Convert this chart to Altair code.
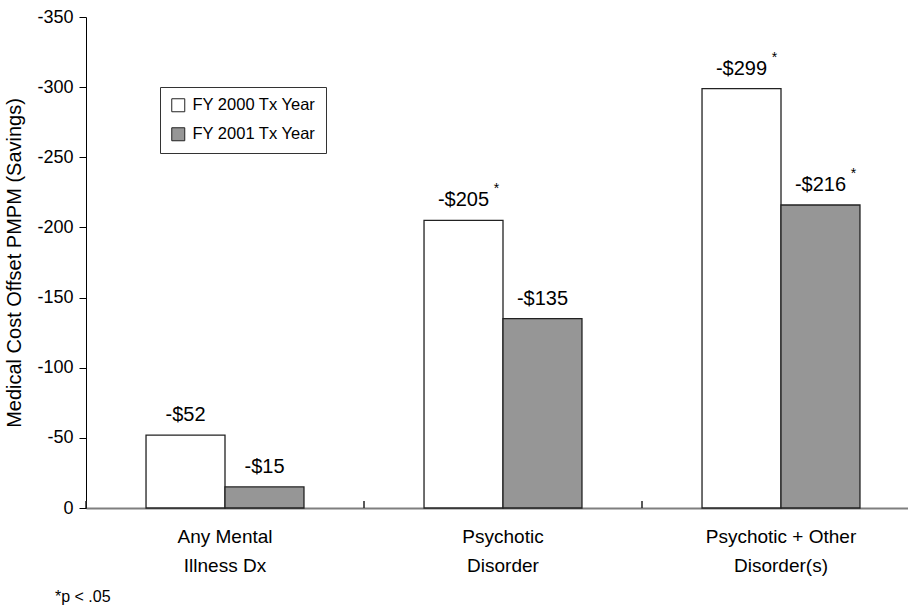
import altair as alt
import pandas as pd

# Medical cost offset per member per month, by diagnosis group and treatment year
categories = ["Any Mental\nIllness Dx", "Psychotic\nDisorder", "Psychotic + Other\nDisorder(s)"]
series = ["FY 2000 Tx Year", "FY 2001 Tx Year"]
fy2000 = [-52, -205, -299]
fy2001 = [-15, -135, -216]
sig2000 = ["", "*", "*"]
sig2001 = ["", "", "*"]
y_ticks = [0, -50, -100, -150, -200, -250, -300, -350]

rows = []
for i, cat in enumerate(categories):
    rows.append({"category": cat, "series": series[0], "value": fy2000[i], "sig": sig2000[i]})
    rows.append({"category": cat, "series": series[1], "value": fy2001[i], "sig": sig2001[i]})
df = pd.DataFrame(rows)

FONT = "Liberation Sans"

x_enc = alt.X(
    "category:N",
    sort=categories,
    scale=alt.Scale(domain=categories, range=[0, 834], paddingInner=0, paddingOuter=0),
    axis=alt.Axis(
        title=None,
        labelAngle=0,
        ticks=False,
        domainColor="#7f7f7f",
        domainWidth=2,
        labelFontSize=19,
        labelLineHeight=29,
        labelPadding=19,
        labelColor="#000",
        labelExpr="split(datum.label, '\\n')",
    ),
)
xoff_enc = alt.XOffset("series:N", sort=series, scale=alt.Scale(domain=series, paddingOuter=0.76, paddingInner=0))
y_enc = alt.Y(
    "value:Q",
    scale=alt.Scale(domain=[-350, 0], nice=False, reverse=True),
    axis=alt.Axis(
        title="Medical Cost Offset PMPM (Savings)",
        values=y_ticks,
        labelExpr="(datum.value < 0 ? '-' : '') + abs(datum.value)",
        grid=False,
        domainColor="#000",
        tickColor="#000",
        tickSize=7,
        labelFontSize=18,
        labelPadding=6,
        labelColor="#000",
        titleFontSize=20,
        titleFontWeight="normal",
        titleColor="#000",
        titlePadding=12,
    ),
)

base = alt.Chart(df)

bars = base.mark_bar(stroke="#222", strokeWidth=1.3).encode(
    x=x_enc,
    xOffset=xoff_enc,
    y=y_enc,
    fill=alt.Fill(
        "series:N",
        sort=series,
        scale=alt.Scale(domain=series, range=["#ffffff", "#969696"]),
        legend=alt.Legend(
            title=None,
            orient="none",
            legendX=74,
            legendY=70,
            strokeColor="#333",
            fillColor="#fff",
            padding=10,
            symbolType="square",
            symbolSize=169,
            symbolStrokeColor="#222",
            symbolStrokeWidth=1,
            labelFontSize=16.5,
            labelColor="#000",
            labelOffset=6,
            rowPadding=11,
        ),
    ),
)

# Value labels above each bar
labels = base.transform_calculate(
    label="'-$' + format(-datum.value, 'd')"
).mark_text(fontSize=20, baseline="alphabetic", align="center", dy=-14, color="#000").encode(
    x=alt.X("category:N", sort=categories),
    xOffset=alt.XOffset("series:N", sort=series),
    y="value:Q",
    text="label:N",
)

# Significance markers as superscripts
stars = base.mark_text(fontSize=14, baseline="alphabetic", align="center", dx=33, dy=-27, color="#000").encode(
    x=alt.X("category:N", sort=categories),
    xOffset=alt.XOffset("series:N", sort=series),
    y="value:Q",
    text="sig:N",
)

# Inward tick marks at the category boundaries
cat_ticks = base.mark_rule(color="#222", strokeWidth=1).encode(
    x=alt.X("category:N", sort=categories, bandPosition=0),
    y=alt.value(484),
    y2=alt.value(491),
)

chart = (
    alt.layer(bars, cat_ticks, labels, stars)
    .properties(
        width=822,
        height=491,
        autosize=alt.AutoSizeParams(type="none"),
        padding={"left": 86, "top": 17, "right": 0, "bottom": 100},
        title=alt.TitleParams(
            "*p < .05",
            orient="bottom",
            anchor="start",
            frame="group",
            align="left",
            fontSize=16,
            fontWeight="normal",
            color="#000",
            dx=-31,
            offset=14,
            font=FONT,
        ),
    )
    .configure(font=FONT, background="#ffffff")
    .configure_view(stroke=None)
    .configure_axis(labelFont=FONT, titleFont=FONT)
    .configure_legend(labelFont=FONT)
)

chart.save("out.html", embed_options={"renderer": "svg", "actions": False})
